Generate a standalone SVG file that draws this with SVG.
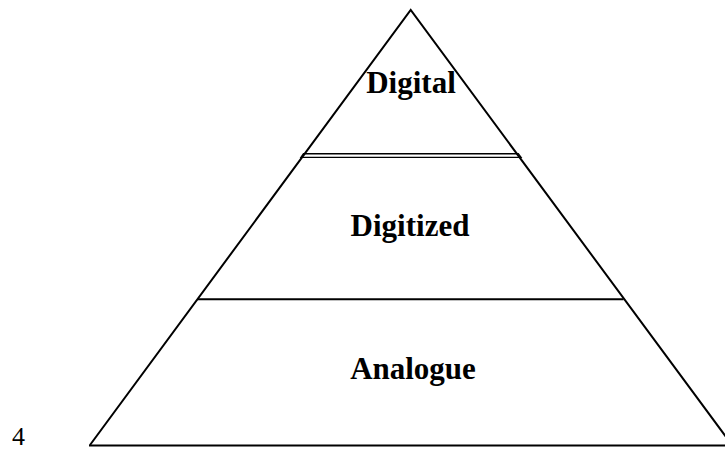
<svg xmlns="http://www.w3.org/2000/svg" width="725" height="450" viewBox="0 0 725 450">
  <style>
    .edge { fill: none; stroke: #000; stroke-width: 2; stroke-linejoin: miter; }
    .thin { fill: none; stroke: #000; stroke-width: 1.4; }
    .label { font-family: "Liberation Serif", "Times New Roman", serif; font-weight: bold; font-size: 31px; text-anchor: middle; fill: #000; }
    .page { font-family: "Liberation Serif", "Times New Roman", serif; font-size: 26px; fill: #000; }
  </style>
  <rect width="725" height="450" fill="#fff"/>

  <!-- pyramid outline and dividers -->
  <g id="connectors">
    <polyline class="edge" points="90,445 410.7,10 732,445"/>
    <line class="edge" x1="89" y1="445.5" x2="733" y2="445.5"/>
    <!-- double rule between the top and middle tiers -->
    <polygon class="thin" points="303.5,153.7 518.3,153.7 521,157.4 301,157.4"/>
    <!-- rule between the middle and bottom tiers -->
    <line class="edge" x1="197.5" y1="299.3" x2="623.5" y2="299.3"/>
  </g>

  <g id="digital">
    <text class="label" x="411" y="93">Digital</text>
  </g>
  <g id="digitized">
    <text class="label" x="410" y="236">Digitized</text>
  </g>
  <g id="analogue">
    <text class="label" x="413" y="379">Analogue</text>
  </g>

  <text class="page" x="12" y="445">4</text>
</svg>
